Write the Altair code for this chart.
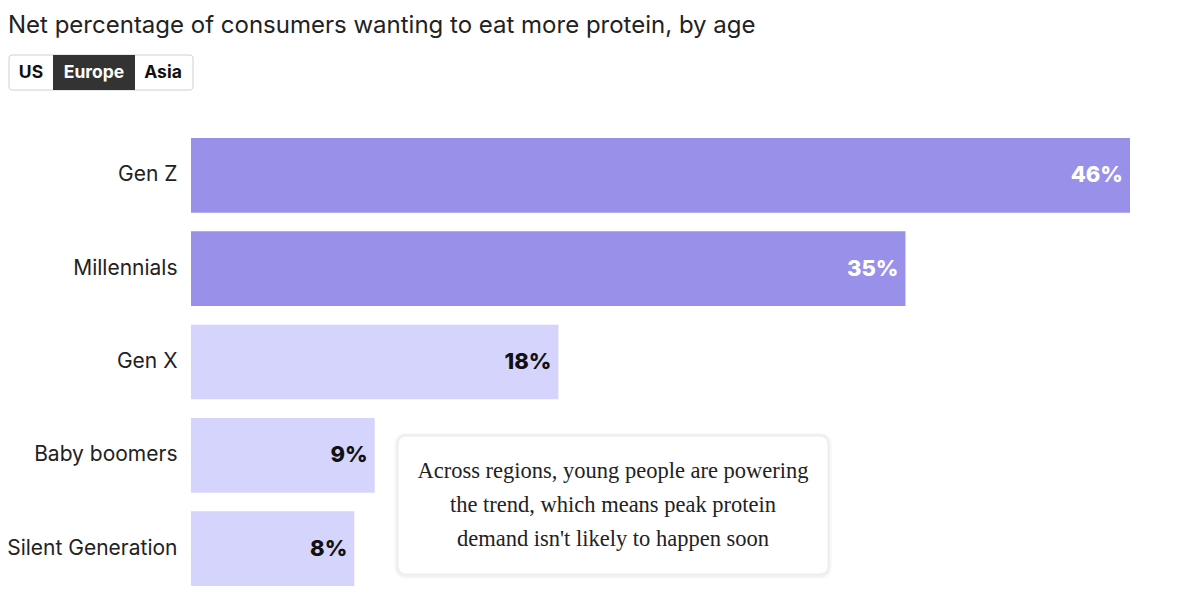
import altair as alt
import pandas as pd

generations = ["Gen Z", "Millennials", "Gen X", "Baby boomers", "Silent Generation"]
values = [46, 35, 18, 9, 8]
labels = ["46%", "35%", "18%", "9%", "8%"]
highlight = [True, True, False, False, False]

title_text = "Net percentage of consumers wanting to eat more protein, by age"
buttons = ["US", "Europe", "Asia"]
note_lines = ["Across regions, young people are powering",
              "the trend, which means peak protein",
              "demand isn't likely to happen soon"]

df = pd.DataFrame({"gen": generations, "value": values, "label": labels, "hl": highlight})
one = pd.DataFrame({"k": [0]})

SANS = "Inter"
SERIF = "Liberation Serif"

x = alt.X("value:Q", scale=alt.Scale(domain=[0, 46], nice=False, zero=True), axis=None)
y = alt.Y("gen:N", sort=generations, title=None,
          scale=alt.Scale(paddingInner=0.2, paddingOuter=0),
          axis=alt.Axis(domain=False, ticks=False, labelPadding=14, labelFontSize=21,
                        labelFont=SANS, labelColor="#222222", grid=False))

bars = alt.Chart(df).mark_bar(cornerRadius=0).encode(
    x=x, y=y,
    color=alt.condition("datum.hl", alt.value("#9990EA"), alt.value("#D5D4FC")),
)

vals = alt.Chart(df).mark_text(align="right", baseline="middle", dx=-7, font=SANS,
                               fontWeight=800, fontSize=22).encode(
    x=x, y=y, text="label:N",
    color=alt.condition("datum.hl", alt.value("#ffffff"), alt.value("#111111")),
)

title = alt.Chart(one).mark_text(align="left", baseline="alphabetic", font=SANS, fontSize=24,
                                 color="#222222").encode(
    x=alt.value(-183), y=alt.value(-105), text=alt.value(title_text))

btn_box = alt.Chart(one).mark_rect(fill="white", stroke="#d0d0d0", strokeWidth=1, cornerRadius=3).encode(
    x=alt.value(-182), x2=alt.value(2), y=alt.value(-83), y2=alt.value(-48))
btn_sel = alt.Chart(one).mark_rect(fill="#333333").encode(
    x=alt.value(-138), x2=alt.value(-56), y=alt.value(-83), y2=alt.value(-48))
btn_us = alt.Chart(one).mark_text(font=SANS, fontWeight="bold", fontSize=17.5, color="#111111",
                                  baseline="middle").encode(
    x=alt.value(-160), y=alt.value(-65), text=alt.value(buttons[0]))
btn_eu = alt.Chart(one).mark_text(font=SANS, fontWeight="bold", fontSize=17.5, color="#ffffff",
                                  baseline="middle").encode(
    x=alt.value(-97), y=alt.value(-65), text=alt.value(buttons[1]))
btn_as = alt.Chart(one).mark_text(font=SANS, fontWeight="bold", fontSize=17.5, color="#111111",
                                  baseline="middle").encode(
    x=alt.value(-28), y=alt.value(-65), text=alt.value(buttons[2]))

shadow1 = alt.Chart(one).mark_rect(fill="#000000", opacity=0.025, cornerRadius=11).encode(
    x=alt.value(203), x2=alt.value(641), y=alt.value(295), y2=alt.value(441))
shadow2 = alt.Chart(one).mark_rect(fill="#000000", opacity=0.035, cornerRadius=9).encode(
    x=alt.value(205), x2=alt.value(639), y=alt.value(296), y2=alt.value(439))
note_box = alt.Chart(one).mark_rect(fill="white", stroke="#ececec", strokeWidth=1, cornerRadius=8).encode(
    x=alt.value(207), x2=alt.value(637), y=alt.value(298), y2=alt.value(436))
note_text = alt.Chart(one).mark_text(font=SERIF, fontSize=22.5, color="#222222", align="center",
                                     baseline="middle", lineHeight=34).encode(
    x=alt.value(422), y=alt.value(333), text=alt.value(note_lines))

chart = alt.layer(bars, vals, title, btn_box, btn_sel, btn_us, btn_eu, btn_as,
                  shadow1, shadow2, note_box, note_text).properties(
    width=939, height=448,
    autosize=alt.AutoSizeParams(type="none"),
    padding={"left": 183, "top": 130, "right": 62, "bottom": 0},
    background="white",
).configure_view(stroke=None)

chart.save("out.html", embed_options={"renderer": "svg", "actions": False})
